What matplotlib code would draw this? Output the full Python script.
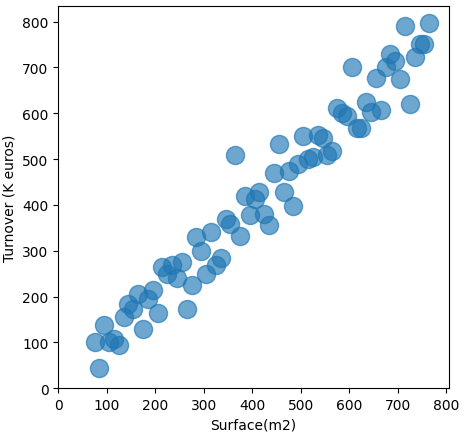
import matplotlib
matplotlib.use("Agg")
import matplotlib.pyplot as plt

surface = [75, 85, 95, 105, 115, 125, 135, 145, 155, 165, 175, 185, 195, 205,
           215, 225, 235, 245, 255, 265, 275, 285, 295, 305, 315, 325, 335, 345,
           355, 365, 375, 385, 395, 405, 415, 425, 435, 445, 455, 465, 475, 485,
           495, 505, 515, 525, 535, 545, 555, 565, 575, 585, 595, 605, 615, 625,
           635, 645, 655, 665, 675, 685, 695, 705, 715, 725, 735, 745, 755, 765]
turnover = [100, 45, 138, 100, 108, 95, 155, 185, 172, 205, 130, 195, 215, 165,
            265, 250, 270, 240, 275, 172, 225, 330, 300, 250, 340, 268, 285, 370,
            358, 508, 333, 420, 378, 412, 428, 380, 357, 470, 532, 428, 475, 398,
            490, 550, 500, 505, 553, 545, 510, 518, 612, 600, 593, 700, 568, 568,
            625, 603, 677, 608, 700, 730, 713, 675, 790, 620, 722, 752, 750, 797]

fig, ax = plt.subplots(figsize=(4.65, 4.35), dpi=100)
ax.scatter(surface, turnover, s=170, alpha=0.65, color="#1f77b4")
ax.set_xlim(0, 805)
ax.set_ylim(0, 835)
ax.set_xlabel("Surface(m2)")
ax.set_ylabel("Turnover (K euros)")
fig.subplots_adjust(left=0.125, right=0.965, top=0.985, bottom=0.105)
fig.savefig("out.png")
